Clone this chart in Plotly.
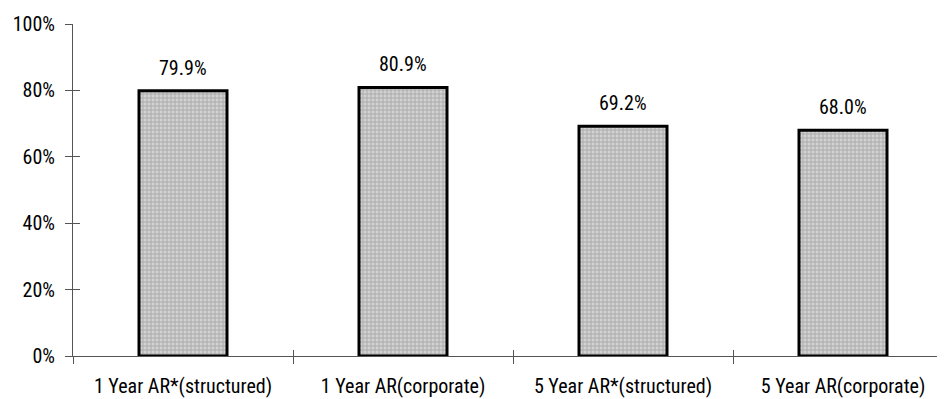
import plotly.graph_objects as go

categories = ["1 Year AR*(structured)", "1 Year AR(corporate)", "5 Year AR*(structured)", "5 Year AR(corporate)"]
values = [0.799, 0.809, 0.692, 0.680]
y_ticks = [0, 0.2, 0.4, 0.6, 0.8, 1.0]
y_tick_labels = ["0%", "20%", "40%", "60%", "80%", "100%"]

FONT = "Roboto Condensed, Liberation Sans Narrow, sans-serif"
FS = 20
FW = 400

fig = go.Figure()
fig.add_trace(go.Bar(
    x=categories, y=values, width=0.4,
    marker=dict(
        color="#c8c8c8",
        line=dict(color="black", width=3),
        pattern=dict(shape="+", fgcolor="#858585", bgcolor="#d2d2d2", size=4, solidity=0.45),
    ),
    hoverinfo="skip",
))
# invisible trace to create the overlay axes for crossing ticks
fig.add_trace(go.Scatter(x=[None], y=[None], xaxis="x2", yaxis="y2", showlegend=False, hoverinfo="skip"))

for c, v in zip(categories, values):
    fig.add_annotation(x=c, y=v, text=f"{v*100:.1f}%", showarrow=False,
                       yanchor="bottom", yshift=9, font=dict(family=FONT, size=FS, color="black", weight=FW))

fig.update_layout(
    width=945, height=399,
    margin=dict(l=65, r=0, t=16, b=51),
    paper_bgcolor="white", plot_bgcolor="white",
    showlegend=False,
    font=dict(family=FONT, size=FS, color="black", weight=FW),
    xaxis=dict(type="category", range=[-0.5, 3.5], showgrid=False, showline=True, linecolor="#555555", linewidth=1,
               ticks="outside", tickson="boundaries", ticklen=7, tickcolor="#555555", tickwidth=1,
               tickfont=dict(family=FONT, size=FS, weight=FW), zeroline=False, ticklabelstandoff=12),
    yaxis=dict(range=[0, 1], tickvals=y_ticks, ticktext=y_tick_labels, showgrid=False, showline=True,
               linecolor="#555555", linewidth=1, ticks="outside", ticklen=7, tickcolor="#555555", tickwidth=1,
               tickfont=dict(family=FONT, size=FS, weight=FW), zeroline=False, ticklabelstandoff=6),
    xaxis2=dict(overlaying="x", anchor="y2", side="bottom", range=[-0.5, 3.5], tickvals=[-0.5, 0.5, 1.5, 2.5],
                ticks="inside", ticklen=6, tickcolor="#555555", showticklabels=False, showgrid=False,
                zeroline=False, showline=False),
    yaxis2=dict(overlaying="y", anchor="x2", side="left", range=[0, 1], tickvals=y_ticks,
                ticks="inside", ticklen=7, tickcolor="#555555", showticklabels=False, showgrid=False,
                zeroline=False, showline=False),
)

fig.write_html("out.html")
